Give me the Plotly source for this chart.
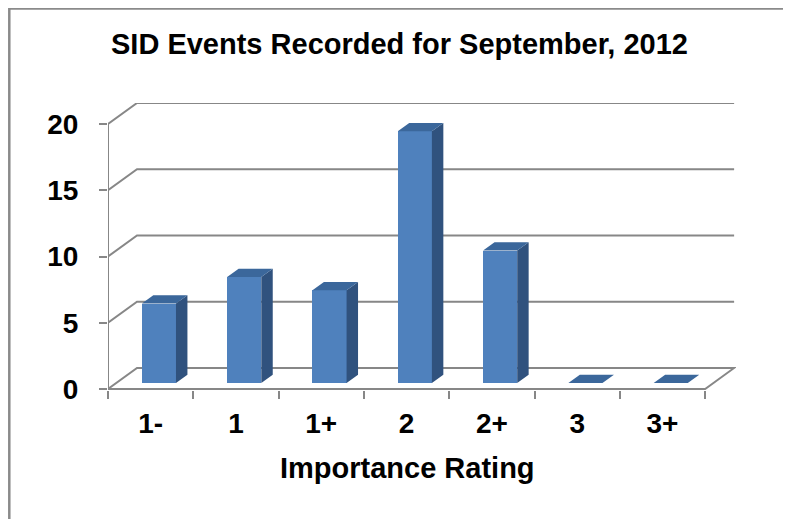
import plotly.graph_objects as go

# ---------------- data ----------------
categories = ["1-", "1", "1+", "2", "2+", "3", "3+"]
events = [6, 8, 7, 19, 10, 0, 0]
y_ticks = [0, 5, 10, 15, 20]
y_tick_text = ["0", "5", "10", "15", "20"]

chart_title = "SID Events Recorded for September, 2012"
x_title = "Importance Rating"

# ---------------- layout / projection settings ----------------
PAGE_OFF = 8                  # browser default body margin
W, H = 791 - PAGE_OFF, 519 - PAGE_OFF
L, R, T, B = 108 - PAGE_OFF, 55, 103 - PAGE_OFF, 129
plot_w = W - L - R
plot_h = H - T - B

DX = 0.34      # depth shift along x (category units)
DY = 1.585     # depth shift along y (value units)
D0, D1 = 0.285, 0.68   # bar front/back depth fractions
BW = 0.40      # bar width

n = len(categories)
x0, x1 = -0.5, n - 0.5
x_range = [x0, x1 + DX + 0.022]
y_range = [-0.075, 21.585]

GRID = "#878787"
FRONT = "#4F81BD"
SIDE = "#30527e"
TOP = "#3b679b"
FONT = "Liberation Sans, Arial, sans-serif"

fig = go.Figure()

# front faces
fig.add_trace(go.Bar(
    x=[i + D0 * DX for i in range(n)], y=events, base=D0 * DY, width=BW,
    marker=dict(color=FRONT, line=dict(width=0)), hoverinfo="skip", showlegend=False))

# side faces and top faces
sx, sy, tx, ty = [], [], [], []
dd = D1 - D0
for i, v in enumerate(events):
    xl = i + D0 * DX - BW / 2
    xr = i + D0 * DX + BW / 2
    if v > 0:
        sx += [xr, xr, xr + dd * DX, xr + dd * DX, xr, None]
        sy += [D0 * DY, v + D0 * DY, v + D1 * DY, D1 * DY, D0 * DY, None]
    tx += [xl, xr, xr + dd * DX, xl + dd * DX, xl, None]
    ty += [v + D0 * DY, v + D0 * DY, v + D1 * DY, v + D1 * DY, v + D0 * DY, None]

fig.add_trace(go.Scatter(x=sx, y=sy, mode="lines", fill="toself", fillcolor=SIDE,
                         line=dict(width=0, color=SIDE), hoverinfo="skip", showlegend=False))
fig.add_trace(go.Scatter(x=tx, y=ty, mode="lines", fill="toself", fillcolor=TOP,
                         line=dict(width=0, color=TOP), hoverinfo="skip", showlegend=False))

# walls: gridlines on side wall + back wall, floor, front axis line
shapes = []
for t in y_ticks:
    if t == 0:
        path = (f"M {x0},{t} L {x0 + DX},{t + DY} L {x1 + DX},{t + DY} "
                f"L {x1},{t} Z")
    else:
        path = f"M {x0},{t} L {x0 + DX},{t + DY} L {x1 + DX},{t + DY}"
    shapes.append(dict(type="path", xref="x", yref="y", path=path, layer="below",
                       line=dict(color=GRID, width=2)))
shapes.append(dict(type="line", xref="x", yref="y", x0=x0, x1=x0, y0=0, y1=max(y_ticks),
                   layer="below", line=dict(color=GRID, width=2)))

# outer chart border (figure pixel coords -> paper coords)
def px_to_paper_x(px):
    return (px - L) / plot_w

def px_to_paper_y(py):
    return (H - B - py) / plot_h

shapes.append(dict(type="rect", xref="paper", yref="paper",
                   x0=px_to_paper_x(1.3), x1=px_to_paper_x(780.5),
                   y0=px_to_paper_y(540), y1=px_to_paper_y(0.5),
                   line=dict(color="#8a8a8a", width=2.5), layer="below"))

annotations = [dict(text=x_title, xref="paper", yref="paper",
                    x=px_to_paper_x(407 - PAGE_OFF), y=px_to_paper_y(468 - PAGE_OFF),
                    xanchor="center", yanchor="middle", showarrow=False,
                    font=dict(family=FONT, size=29, color="black", weight="bold"))]

fig.update_layout(
    width=W, height=H,
    margin=dict(l=L, r=R, t=T, b=B, pad=0, autoexpand=False),
    paper_bgcolor="white", plot_bgcolor="rgba(0,0,0,0)",
    shapes=shapes,
    annotations=annotations,
    bargap=0,
    title=dict(text=chart_title, x=(399.5 - PAGE_OFF) / W, xanchor="center",
               y=1 - 36 / H, yanchor="middle", yref="container", automargin=False,
               font=dict(family=FONT, size=29, color="black", weight="bold")),
    xaxis=dict(range=x_range, showgrid=False, zeroline=False, showline=False,
               automargin=False,
               tickmode="array", tickvals=list(range(n)), ticktext=categories,
               ticks="", ticklabelstandoff=14,
               tickfont=dict(family=FONT, size=28, color="black", weight="bold"),
               minor=dict(tickmode="array", tickvals=[i - 0.5 for i in range(n + 1)],
                          ticks="outside", ticklen=8, tickwidth=2, tickcolor=GRID,
                          showgrid=False),
               fixedrange=True),
    yaxis=dict(range=y_range, showgrid=False, zeroline=False, showline=False,
               automargin=False,
               tickmode="array", tickvals=y_ticks, ticktext=y_tick_text,
               ticks="outside", ticklen=8, tickwidth=2, tickcolor=GRID,
               ticklabelstandoff=15,
               tickfont=dict(family=FONT, size=28, color="black", weight="bold"),
               fixedrange=True),
)

fig.write_html("out.html")
